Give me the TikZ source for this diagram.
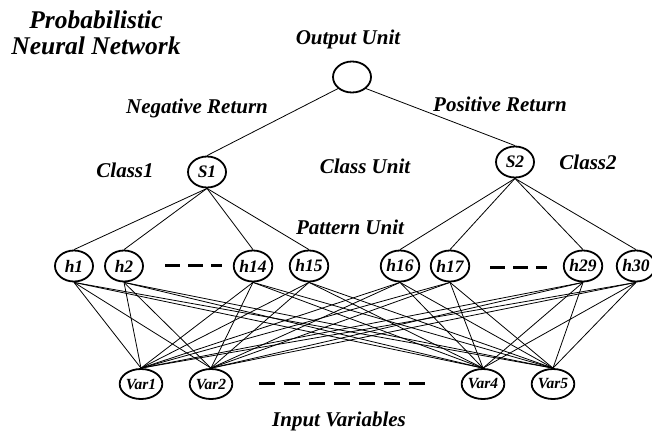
\documentclass[tikz,border=0pt]{standalone}
\usepackage{fontspec}
\setmainfont{Liberation Serif}
\usetikzlibrary{shapes.geometric}
\begin{document}
\begin{tikzpicture}[x=1pt,y=-1pt,
  unit/.style={ellipse,draw,line width=1.8pt,minimum width=38pt,minimum height=31pt,inner sep=0pt,font=\fontsize{17.5}{18}\selectfont\bfseries\itshape},
  varunit/.style={unit,minimum width=37pt,minimum height=30pt,font=\fontsize{15.5}{16}\selectfont\bfseries\itshape},
  lbl/.style={font=\fontsize{21}{22}\selectfont\bfseries\itshape,inner sep=0pt},
  link/.style={line width=0.8pt},
  dots/.style={line width=3pt,dash pattern=on 15pt off 8pt}]
\useasboundingbox (0,0) rectangle (652,434);
\fill[white] (0,0) rectangle (652,434);
% labels
\node[font=\fontsize{25.5}{26}\selectfont\bfseries\itshape,align=center,inner sep=0pt] (title) at (96,33) {Probabilistic\\Neural Network};
\node[lbl] (outlbl) at (348,39) {Output Unit};
\node[lbl] (neg) at (197,108) {Negative Return};
\node[lbl] (pos) at (500,104) {Positive Return};
\node[lbl] (c1) at (125,170) {Class1};
\node[lbl] (cu) at (365,166) {Class Unit};
\node[lbl] (c2) at (588,162) {Class2};
\node[lbl] (pu) at (350,227) {Pattern Unit};
\node[lbl] (iv) at (339,421) {Input Variables};
% nodes
\node[unit] (out) at (352,77) {};
\node[unit] (s1) at (207,172) {S1};
\node[unit] (s2) at (515,162) {S2};
\foreach \n/\x in {1/74,2/124,14/253,15/309,16/400,17/450,29/583,30/636}
  \node[unit] (h\n) at (\x,266) {h\n};
\foreach \n/\x in {1/141,2/211,4/483,5/553}
  \node[varunit] (v\n) at (\x,384) {Var\n};
% dashes
\coordinate (da1) at (165,265); \coordinate (da2) at (222,265);
\coordinate (db1) at (490,267); \coordinate (db2) at (547,267);
\coordinate (dc1) at (259,383); \coordinate (dc2) at (428,383);
\draw[dots] (da1) -- (da2);
\draw[dots] (db1) -- (db2);
\draw[dots,dash pattern=on 16pt off 9pt] (dc1) -- (dc2);
% links
\draw[link] (out.south west) -- (s1.north);
\draw[link] (out.south east) -- (s2.north);
\foreach \h in {1,2,14,15} \draw[link] (s1.south) -- (h\h.north);
\foreach \h in {16,17,29,30} \draw[link] (s2.south) -- (h\h.north);
\foreach \h in {1,2,14,15,16,17,29,30}
  \foreach \v in {1,2,4,5}
    \draw[link] (h\h.south) -- (v\v.north);
\end{tikzpicture}
\end{document}
